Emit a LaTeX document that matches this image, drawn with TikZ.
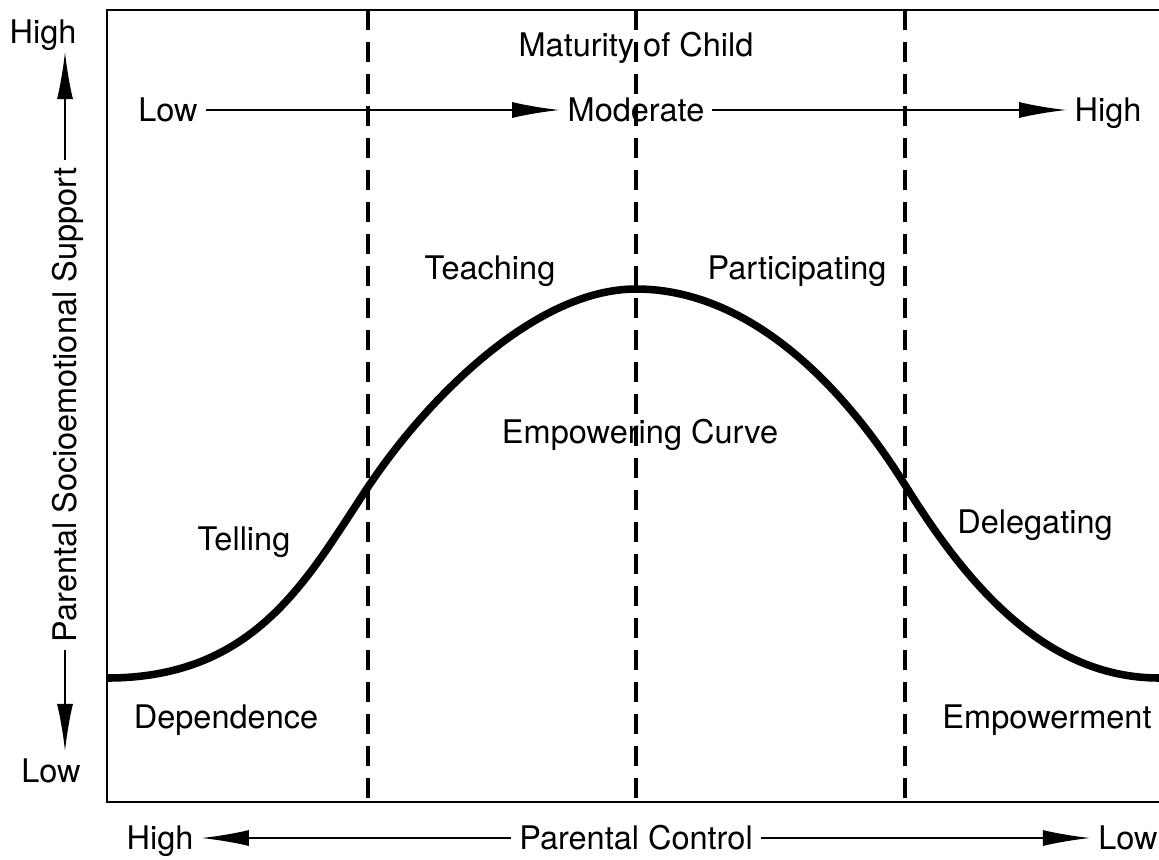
\documentclass[tikz,border=0pt]{standalone}
\usepackage{fontspec}
\setmainfont{TeX Gyre Heros}
\usetikzlibrary{arrows.meta}

\begin{document}
\begin{tikzpicture}[
                x=0.02cm, y=-0.02cm,
                line width=1.1pt,
                lbl/.style={font=\fontsize{18.5}{22}\selectfont, inner sep=4pt,
                            text height=13.3pt, text depth=0pt},
                axarrow/.style={-{Latex[length=0.95cm,width=0.32cm]}},
                divider/.style={line width=2pt, dash pattern=on 0.4cm off 0.24cm}]

\useasboundingbox (0,0) rectangle (1159,859);

% frame
\draw (1159,10) -- (107,10) -- (107,802) -- (1159,802);

% stage dividers
\foreach \xd in {368,636,905}
  \draw[divider] (\xd,10) -- (\xd,802);

% empowering curve
\draw[line width=4.3pt] (107,678)
  .. controls (257,678) and (308,577) .. (368,487)
  .. controls (428,397) and (536,289) .. (636,289)
  .. controls (736,289) and (830,365) .. (905,485)
  .. controls (960,573) and (1039,678) .. (1159,678);

                    % maturity axis
                    \node[lbl] (MAT) at (636,45) {Maturity of Child};
                    \node[lbl] (MLOW) at (168,110) {Low};
                    \node[lbl] (MMOD) at (636,110) {Moderate};
                    \node[lbl] (MHIGH) at (1108,110) {High};
                    \draw[axarrow] (MLOW) -- (MMOD);
                    \draw[axarrow] (MMOD) -- (MHIGH);

                    % support axis
                    \node[lbl] (SHIGH) at (43,32) {High};
                    \node[lbl] (SLOW) at (51,771) {Low};
                    \node[lbl,rotate=90] (SUP) at (65,405) {Parental Socioemotional Support};
                    \draw[axarrow] (SUP.east) -- (SUP.east |- SHIGH.south);
                    \draw[axarrow] (SUP.west) -- (SUP.west |- SLOW.north);

                    % control axis
                    \node[lbl] (CHIGH) at (160,838) {High};
                    \node[lbl] (CTRL) at (636,838) {Parental Control};
                    \node[lbl] (CLOW) at (1128,838) {Low};
                    \draw[axarrow] (CTRL) -- (CHIGH);
                    \draw[axarrow] (CTRL) -- (CLOW);

%%%%%%%%%%%%%%%%%%%%%%%%%%%%%%%%%%%%%%%%%%%%%%%%%%%%%%%%%%%%%%%%%%%%%%%%%%%%%%%%%%%%

                    % stages
                    \node[lbl] (TELL) at (244,539) {Telling};
                    \node[lbl] (TEACH) at (490,268) {Teaching};
                    \node[lbl] (PART) at (797,268) {Participating};
                    \node[lbl] (DELEG) at (1035,522) {Delegating};
                    \node[lbl] (CURVE) at (640,432) {Empowering Curve};

                    % ends of the curve
                    \node[lbl] (DEP) at (226,717) {Dependence};
                    \node[lbl] (EMP) at (1047,717) {Empowerment};

\end{tikzpicture}
\end{document}
